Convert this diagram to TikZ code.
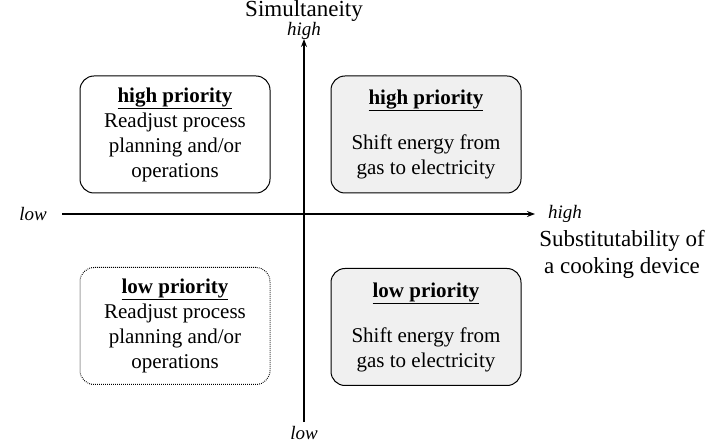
\documentclass[tikz,border=0pt]{standalone}
\usepackage{fontspec}
\setmainfont{Liberation Serif}
\usetikzlibrary{arrows.meta}

\tikzset{
  quadbox/.style={draw, line width=1pt, rounded corners=14pt, minimum width=190pt, minimum height=117pt,
    align=center, inner sep=0pt, font=\fontsize{21}{25}\selectfont},
  shaded/.style={fill=gray!12},
  dotline/.style={dash pattern=on 0.8pt off 1.2pt},
  axis/.style={line width=1.5pt, -{Stealth[length=8pt,width=6pt]}},
  axistitle/.style={align=center, inner sep=0pt, font=\fontsize{23}{27}\selectfont},
  endlabel/.style={inner sep=0pt, font=\fontsize{19}{20}\selectfont\itshape},
}
\newcommand{\prio}[1]{\underline{\textbf{#1}}}

\begin{document}
\begin{tikzpicture}[x=1pt,y=-1pt]
  \useasboundingbox (0,0) rectangle (712,443);

  % Axes
  \coordinate (ybot) at (304,422);
  \coordinate (ytop) at (304,39);
  \coordinate (xleft) at (62,214);
  \coordinate (xright) at (535,214);
  \draw[axis] (ybot) -- (ytop);
  \draw[axis] (xleft) -- (xright);

  % Axis labels
  \node[axistitle] (ytitle) at (304,11) {Simultaneity};
  \node[endlabel] (yhigh) at (304,31) {high};
  \node[endlabel] (ylow) at (304,433) {low};
  \node[endlabel] (xlow) at (33,214) {low};
  \node[endlabel] (xhigh) at (565,214) {high};
  \node[axistitle] (xtitle) at (622,254) {Substitutability of\\a cooking device};

  % Quadrants
  \node[quadbox] (tl) at (175,134.5)
    {\prio{high priority}\\Readjust process\\planning and/or\\operations};
  \node[quadbox, shaded] (tr) at (426,134.5)
    {\prio{high priority}\\[20pt]Shift energy from\\gas to electricity};
  \node[quadbox, dotline] (bl) at (175,326)
    {\prio{low priority}\\Readjust process\\planning and/or\\operations};
  \node[quadbox, shaded] (br) at (426,327)
    {\prio{low priority}\\[20pt]Shift energy from\\gas to electricity};

\end{tikzpicture}
\end{document}
